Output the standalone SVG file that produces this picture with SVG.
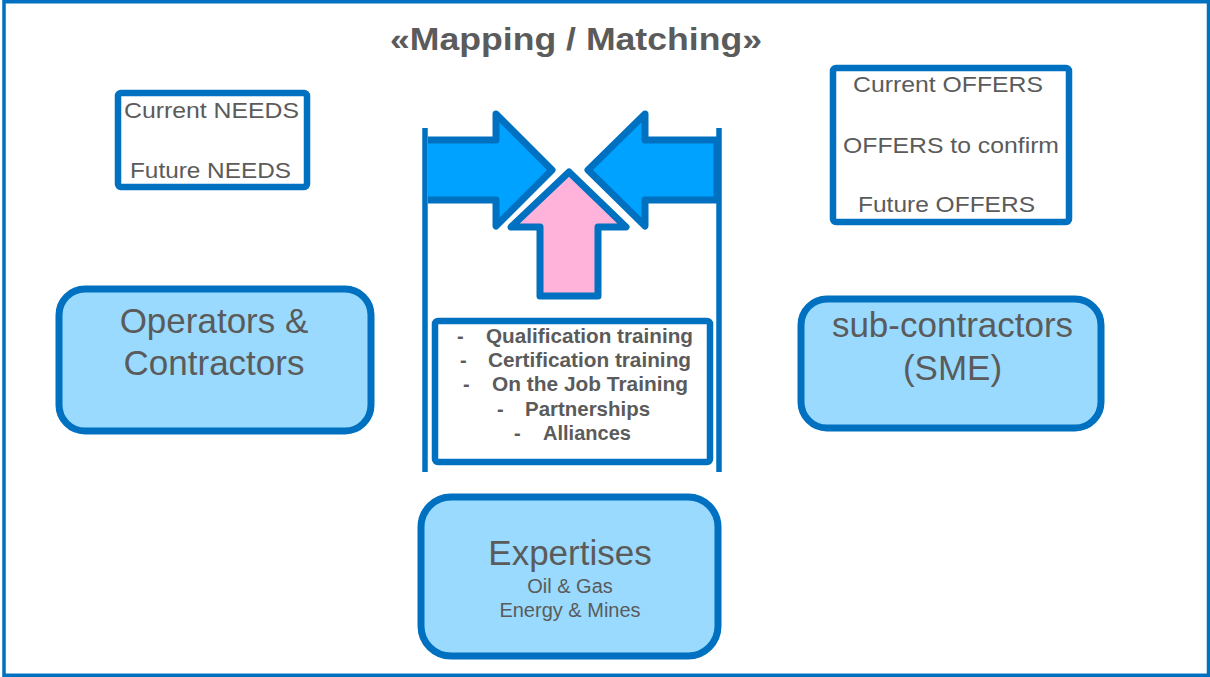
<svg xmlns="http://www.w3.org/2000/svg" width="1210" height="677" viewBox="0 0 1210 677">
  <style>
    .frame { fill: #ffffff; stroke: #0070C0; stroke-width: 3.5; }
    .box { fill: #ffffff; stroke: #0070C0; stroke-width: 6.5; }
    .rbox { fill: #99DAFE; stroke: #0070C0; stroke-width: 7; }
    .vline { stroke: #0070C0; stroke-width: 5.5; fill: none; }
    .barrow { fill: #00A2FF; stroke: #0070C0; stroke-width: 7; stroke-linejoin: round; }
    .parrow { fill: #FFB3DA; stroke: #0070C0; stroke-width: 7; stroke-linejoin: round; }
    text { font-family: "Liberation Sans", Arial, sans-serif; fill: #5B5B5B; }
    .title { font-size: 31px; font-weight: bold; text-anchor: middle; }
    .small { font-size: 22px; text-anchor: middle; }
    .big { font-size: 35px; text-anchor: middle; }
    .sub { font-size: 20px; text-anchor: middle; }
    .list { font-size: 20px; font-weight: bold; }
  </style>

  <rect class="frame" x="4" y="1.75" width="1204.5" height="673.5"/>

  <g id="title">
    <text class="title" x="576" y="50" textLength="372" lengthAdjust="spacingAndGlyphs">«Mapping / Matching»</text>
  </g>

  <g id="needs">
    <rect class="box" x="118" y="93" width="189" height="94" rx="3"/>
    <text class="small" x="211.5" y="118" textLength="175" lengthAdjust="spacingAndGlyphs">Current NEEDS</text>
    <text class="small" x="210.5" y="178" textLength="161" lengthAdjust="spacingAndGlyphs">Future NEEDS</text>
  </g>

  <g id="offers">
    <rect class="box" x="833" y="68" width="236" height="154" rx="3"/>
    <text class="small" x="948" y="92" textLength="190" lengthAdjust="spacingAndGlyphs">Current OFFERS</text>
    <text class="small" x="951" y="153" textLength="216" lengthAdjust="spacingAndGlyphs">OFFERS to confirm</text>
    <text class="small" x="946.5" y="212" textLength="177" lengthAdjust="spacingAndGlyphs">Future OFFERS</text>
  </g>

  <g id="operators">
    <rect class="rbox" x="59" y="289" width="312" height="142" rx="26"/>
    <text class="big" x="214" y="333">Operators &amp;</text>
    <text class="big" x="214" y="375">Contractors</text>
  </g>

  <g id="subcontractors">
    <rect class="rbox" x="801" y="299" width="300" height="129" rx="26"/>
    <text class="big" x="952.5" y="337">sub-contractors</text>
    <text class="big" x="952.5" y="380">(SME)</text>
  </g>

  <g id="expertises">
    <rect class="rbox" x="421" y="497" width="297" height="159" rx="30"/>
    <text class="big" x="570" y="565">Expertises</text>
    <text class="sub" x="570" y="593">Oil &amp; Gas</text>
    <text class="sub" x="570" y="617">Energy &amp; Mines</text>
  </g>

  <g id="matching">
    <line class="vline" x1="425" y1="128" x2="425" y2="472"/>
    <line class="vline" x1="719" y1="128" x2="719" y2="472"/>
  </g>

  <g id="training">
    <rect class="box" x="435" y="321" width="275" height="141" rx="3"/>
    <text class="list" x="457" y="343">-</text>
    <text class="list" x="486" y="343" textLength="207" lengthAdjust="spacingAndGlyphs">Qualification training</text>
    <text class="list" x="460" y="367">-</text>
    <text class="list" x="488" y="367" textLength="203" lengthAdjust="spacingAndGlyphs">Certification training</text>
    <text class="list" x="463" y="391">-</text>
    <text class="list" x="492" y="391" textLength="196" lengthAdjust="spacingAndGlyphs">On the Job Training</text>
    <text class="list" x="497" y="416">-</text>
    <text class="list" x="525" y="416" textLength="125" lengthAdjust="spacingAndGlyphs">Partnerships</text>
    <text class="list" x="514" y="440">-</text>
    <text class="list" x="543" y="440" textLength="88" lengthAdjust="spacingAndGlyphs">Alliances</text>
  </g>

  <g id="connectors">
    <path class="barrow" d="M428,140 L496,140 L496,114 L552,170 L496,226 L496,200 L428,200"/>
    <path class="barrow" d="M717,140 L645,140 L645,114 L588,170 L645,226 L645,200 L717,200 Z"/>
    <path class="parrow" d="M569,172 L626,227 L598,227 L598,296 L540,296 L540,227 L511,227 Z"/>
  </g>
</svg>
